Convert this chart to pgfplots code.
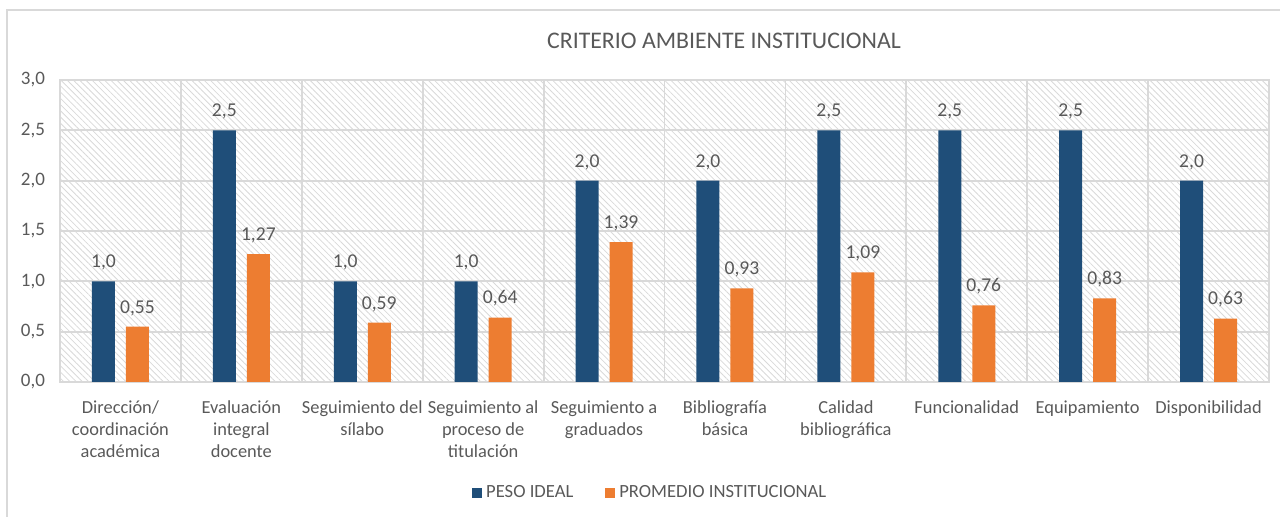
\documentclass[border=0pt]{standalone}
\usepackage{pgfplots}
\pgfplotsset{compat=1.18}
\usepackage{fontspec}
\setmainfont{Carlito}
\usetikzlibrary{patterns.meta}
\definecolor{pblue}{HTML}{1F4E79}
\definecolor{porange}{HTML}{ED7D31}
\definecolor{gridc}{HTML}{D9D9D9}
\definecolor{txt}{HTML}{595959}
\begin{document}
\begin{tikzpicture}
\path[use as bounding box] (0,0) rectangle (640pt,258.5pt);
\draw[gridc, line width=1pt] (3.5pt,-2pt) -- (3.5pt,253.5pt) -- (642pt,253.5pt);
\node[txt, font=\fontsize{11.9}{14}\selectfont] at (362pt,238pt) {CRITERIO AMBIENTE INSTITUCIONAL};
\begin{axis}[
  at={(30pt,67.5pt)}, anchor=south west,
  scale only axis, width=604.5pt, height=151pt,
  ymin=0, ymax=3, ytick={0,0.5,...,3},
  xmin=-0.5, xmax=9.5,
  xtick={0,...,9},
  xticklabels={{Dirección/\\coordinación\\académica},{Evaluación\\integral\\docente},{Seguimiento del\\sílabo},{Seguimiento al\\proceso de\\titulación},{Seguimiento a\\graduados},{Bibliografía\\básica},{Calidad\\bibliográfica},{Funcionalidad},{Equipamiento},{Disponibilidad}},
  xticklabel style={align=center, font=\fontsize{9.2}{11}\selectfont, color=txt, anchor=north, yshift=-6pt},
  yticklabel style={font=\fontsize{9.5}{11}\selectfont, color=txt, xshift=-4pt, /pgf/number format/.cd, use comma, fixed, fixed zerofill, precision=1},
  /pgf/number format/assume math mode=true,
  minor xtick={-0.5,0.5,...,9.5},
  xmajorgrids=false, xminorgrids=true, ymajorgrids=true,
  grid style={gridc, line width=0.9pt},
  minor grid style={gridc, line width=0.9pt},
  axis line style={gridc, line width=0.9pt},
  major tick length=0pt, minor tick length=0pt,
  axis background/.style={pattern={Lines[angle=-45, distance=2.2pt, line width=0.4pt]}, pattern color=black!15},
  ybar=5.5pt, bar width=11.5pt,
  nodes near coords,
  every node near coord/.append style={font=\fontsize{9.8}{11}\selectfont, color=txt, yshift=2pt},
  legend style={at={(0.489,-0.367)}, anchor=center, draw=none, fill=none, legend columns=2, font=\fontsize{9.3}{11}\selectfont, text=txt, /tikz/every even column/.append style={column sep=14pt}},
  legend image code/.code={\fill[#1] (0pt,-2.5pt) rectangle (5pt,2.5pt);},
]
\addplot[fill=pblue, draw=none, nodes near coords={\pgfmathprintnumber[use comma, fixed, fixed zerofill, precision=1, assume math mode=true]{\pgfplotspointmeta}}] coordinates {(0,1.0) (1,2.5) (2,1.0) (3,1.0) (4,2.0) (5,2.0) (6,2.5) (7,2.5) (8,2.5) (9,2.0)};
\addplot[fill=porange, draw=none, nodes near coords={\pgfmathprintnumber[use comma, fixed, fixed zerofill, precision=2, assume math mode=true]{\pgfplotspointmeta}}] coordinates {(0,0.55) (1,1.27) (2,0.59) (3,0.64) (4,1.39) (5,0.93) (6,1.09) (7,0.76) (8,0.83) (9,0.63)};
\legend{PESO IDEAL, PROMEDIO INSTITUCIONAL}
\end{axis}
\end{tikzpicture}
\end{document}
